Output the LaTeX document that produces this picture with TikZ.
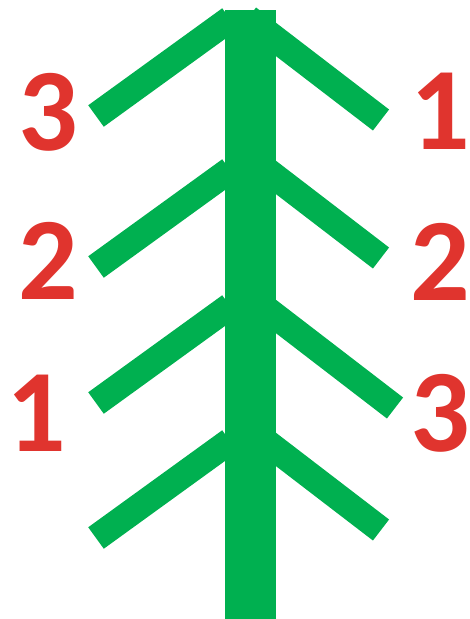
\documentclass[tikz,border=0pt]{standalone}
\usepackage{fontspec}
\setmainfont{Carlito}
\definecolor{treegreen}{RGB}{0,176,80}
\definecolor{numred}{RGB}{224,52,46}
\tikzset{
  branchln/.style={line width=0.53cm, treegreen, line cap=butt},
  trunkfill/.style={fill=treegreen},
  numlbl/.style={numred, inner sep=0pt,
    font=\fontsize{67}{67}\selectfont\bfseries},
}

\begin{document}
\begin{tikzpicture}[x=0.02cm, y=-0.02cm]
    \useasboundingbox (0,0) rectangle (470,619);
    % left branches, lower ends lined up at x=96
    \foreach \y in {116,267,403,538}
      \draw[branchln] (96,\y) -- (230,\y-97);
    % right branches (the third one reaches a bit further)
    \foreach \y/\ex/\ey in {18/381/120, 156/381/258, 295/395/408, 428/381/530}
      \draw[branchln] (248,\y) -- (\ex,\ey);
    % trunk on top of the branch roots
    \fill[trunkfill] (225,10) rectangle (276,619);
    % order numbers, left side
    \node[numlbl] (left3) at (48,112) {3};
    \node[numlbl] (left2) at (48,261) {2};
    \node[numlbl] (left1) at (36,413) {1};
    % order numbers, right side
    \node[numlbl] (right1) at (440,111) {1};
    \node[numlbl] (right2) at (440,262) {2};
    \node[numlbl] (right3) at (440,413) {3};
  \end{tikzpicture}
\end{document}
